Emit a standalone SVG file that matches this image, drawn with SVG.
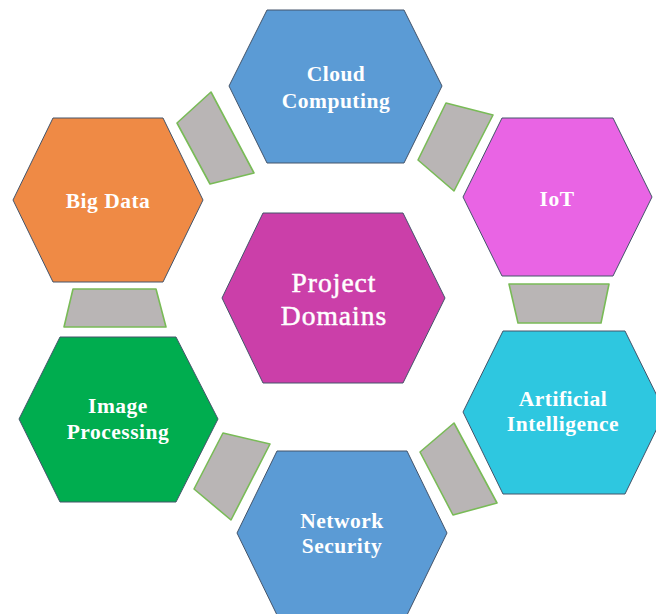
<svg xmlns="http://www.w3.org/2000/svg" width="656" height="614" viewBox="0 0 656 614">
  <style>
    .hex { stroke: #44546a; stroke-width: 1; stroke-linejoin: round; }
    .link { fill: #b9b5b5; stroke: #79bb57; stroke-width: 1.6; stroke-linejoin: round; }
    .label { font-family: "Liberation Serif", "Times New Roman", serif; font-weight: bold; font-size: 21.5px; fill: #ffffff; text-anchor: middle; letter-spacing: 0.5px; }
    .title { font-family: "Liberation Serif", "Times New Roman", serif; font-size: 27.5px; fill: #ffffff; stroke: #ffffff; stroke-width: 0.5; text-anchor: middle; letter-spacing: 1px; }
  </style>
  <rect width="656" height="614" fill="#ffffff"/>

  <!-- connecting plates between neighbouring hexagons -->
  <g id="connectors">
    <polygon class="link" points="177,123 211,92 254,173 210,184"/>
    <polygon class="link" points="446,103 493,115 454,191 418,160"/>
    <polygon class="link" points="509,284 609,284 601,323 518,323"/>
    <polygon class="link" points="420,452 454,423 497,503 453,515"/>
    <polygon class="link" points="223,433 270,444 231,520 194,489"/>
    <polygon class="link" points="73,289 156,289 166,327 64,327"/>
  </g>

  <g id="project-domains">
    <polygon class="hex" fill="#cb3fa9" points="263,213 403,213 445,298 403,383 263,383 222,298"/>
    <text class="title" x="334" y="292">Project</text>
    <text class="title" x="334" y="325">Domains</text>
  </g>

  <g id="cloud-computing">
    <polygon class="hex" fill="#5b9bd5" points="267,10 404,10 442,86 404,163 267,163 229,86"/>
    <text class="label" x="336" y="81">Cloud</text>
    <text class="label" x="336" y="108">Computing</text>
  </g>

  <g id="iot">
    <polygon class="hex" fill="#e964e4" points="502,118 613,118 652,197 613,276 502,276 463,197"/>
    <text class="label" x="557" y="206">IoT</text>
  </g>

  <g id="artificial-intelligence">
    <polygon class="hex" fill="#2ec7e0" points="503,331 625,331 665,412 625,494 503,494 463,412"/>
    <text class="label" x="563" y="406">Artificial</text>
    <text class="label" x="563" y="431">Intelligence</text>
  </g>

  <g id="network-security">
    <polygon class="hex" fill="#5b9bd5" points="277,451 407,451 447,533 407,615 277,615 237,533"/>
    <text class="label" x="342" y="528">Network</text>
    <text class="label" x="342" y="553">Security</text>
  </g>

  <g id="image-processing">
    <polygon class="hex" fill="#00ad4f" points="60,337 176,337 218,419 176,502 60,502 19,419"/>
    <text class="label" x="118" y="413">Image</text>
    <text class="label" x="118" y="439">Processing</text>
  </g>

  <g id="big-data">
    <polygon class="hex" fill="#ef8a45" points="53,118 163,118 203,200 163,282 53,282 13,200"/>
    <text class="label" x="108" y="208">Big Data</text>
  </g>
</svg>
